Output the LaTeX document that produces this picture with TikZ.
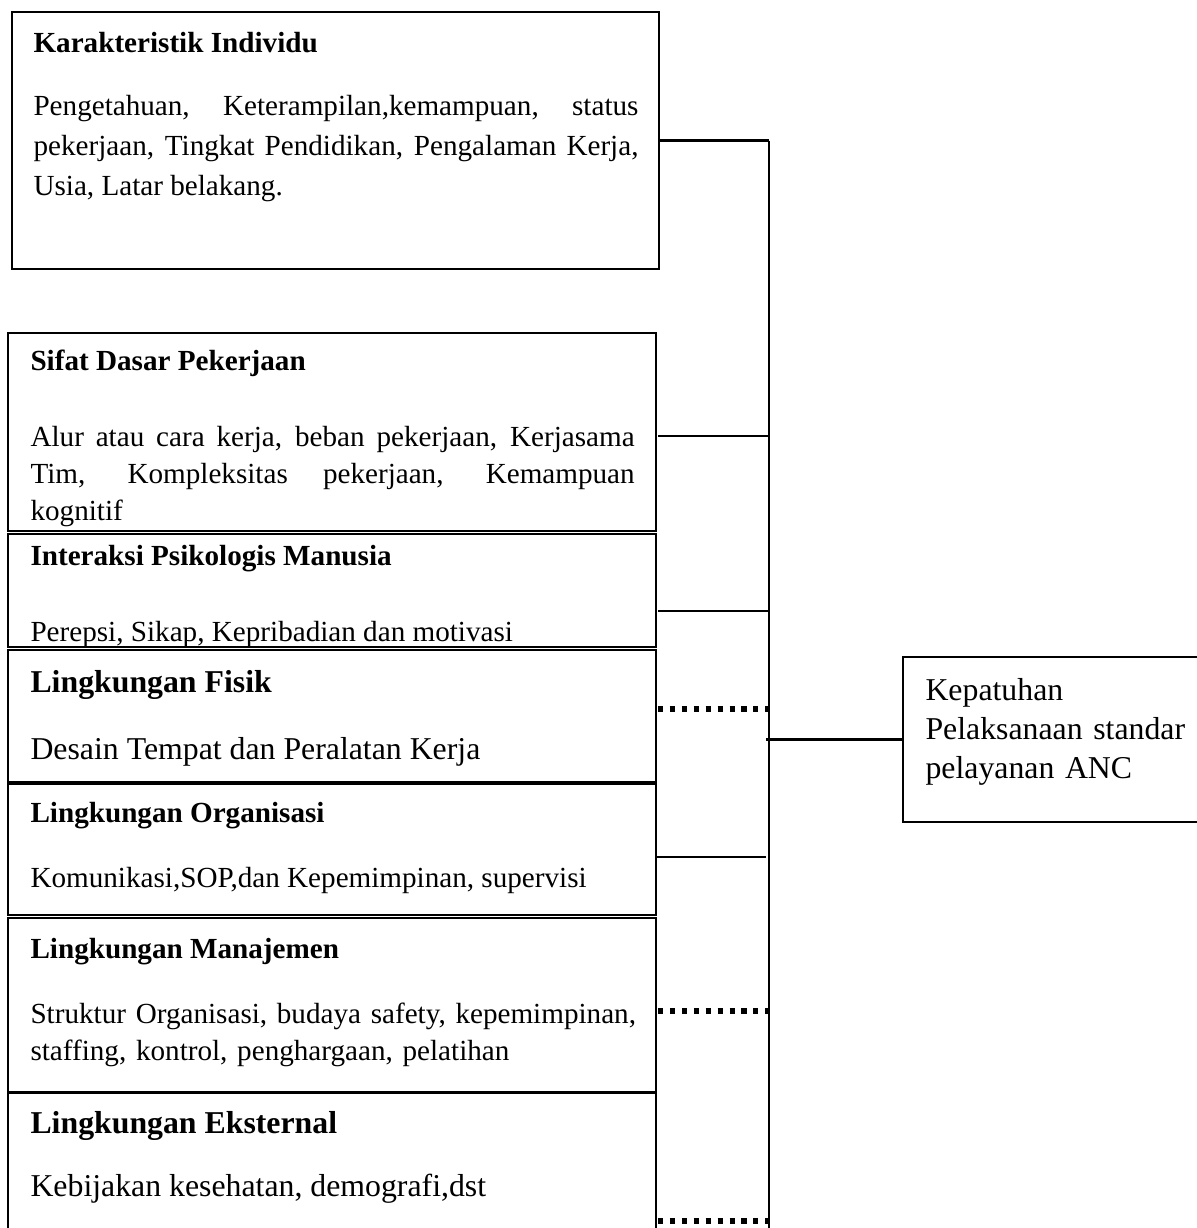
\documentclass[tikz,border=0pt]{standalone}
\usepackage{fontspec}
\setmainfont{Liberation Serif}
\usetikzlibrary{positioning,calc}
\newcommand{\pxu}{0.3774pt}

\begin{document}
\begin{tikzpicture}[
  x=\pxu, y=-\pxu,
  box/.style={draw,line width=0.8pt,outer sep=0pt,inner sep=0pt,anchor=north west},
  head/.style={anchor=base west,inner sep=0pt,font=\fontsize{11}{14}\selectfont\bfseries},
  bighead/.style={anchor=base west,inner sep=0pt,font=\fontsize{12}{15}\selectfont\bfseries},
  body/.style={anchor=base west,inner sep=0pt,align=left,font=\fontsize{11}{14.3}\selectfont},
  bigbody/.style={anchor=base west,inner sep=0pt,align=left,font=\fontsize{12}{14.9}\selectfont},
  link/.style={line width=0.8pt},
  dotlink/.style={line width=1.9pt,dash pattern=on 1.9pt off 2.6pt},
  busline/.style={line width=0.95pt}
]
\useasboundingbox (0,0) rectangle (1197,1228);
% factor boxes
\node[box,minimum width=647*\pxu,minimum height=257*\pxu] (ki) at (12,12) {};
\node[box,minimum width=648*\pxu,minimum height=198*\pxu] (sd) at (8,333) {};
\node[box,minimum width=648*\pxu,minimum height=113*\pxu] (ip) at (8,534) {};
\node[box,minimum width=648*\pxu,minimum height=132*\pxu] (lf) at (8,650) {};
\node[box,minimum width=648*\pxu,minimum height=131*\pxu] (lo) at (8,784) {};
\node[box,minimum width=648*\pxu,minimum height=174*\pxu] (lm) at (8,918) {};
\node[box,minimum width=648*\pxu,minimum height=150*\pxu] (le) at (8,1093) {};
\node[box,minimum width=310*\pxu,minimum height=165*\pxu] (out) at (903,657) {};

% texts
\node[head] (kiT) at ($(ki.north west)+(21,40)$) {Karakteristik Individu};
\node[body,align=justify,text width=228.3pt,font=\fontsize{11}{15.1}\selectfont] (kiB) at ($(ki.north west)+(21,103)$)
  {\hyphenpenalty=10000 Pengetahuan, Keterampilan,kemampuan, status\linebreak pekerjaan, Tingkat Pendidikan, Pengalaman Kerja,\linebreak Usia, Latar belakang.};
\node[head] (sdT) at ($(sd.north west)+(22,37)$) {Sifat Dasar Pekerjaan};
\node[body,align=justify,text width=228pt,font=\fontsize{11}{14}\selectfont] (sdB) at ($(sd.north west)+(22,113)$)
  {\hyphenpenalty=10000 Alur atau cara kerja, beban pekerjaan, Kerjasama\linebreak Tim, Kompleksitas pekerjaan, Kemampuan\linebreak kognitif};
\node[head] (ipT) at ($(ip.north west)+(22,31)$) {Interaksi Psikologis Manusia};
\node[body] (ipB) at ($(ip.north west)+(22,107)$) {Perepsi, Sikap, Kepribadian dan motivasi};
\node[bighead] (lfT) at ($(lf.north west)+(22,42)$) {Lingkungan Fisik};
\node[bigbody] (lfB) at ($(lf.north west)+(22,109)$) {Desain Tempat dan Peralatan Kerja};
\node[head] (loT) at ($(lo.north west)+(22,38)$) {Lingkungan Organisasi};
\node[body] (loB) at ($(lo.north west)+(22,103)$) {Komunikasi,SOP,dan Kepemimpinan, supervisi};
\node[head] (lmT) at ($(lm.north west)+(22,40)$) {Lingkungan Manajemen};
\node[body,text width=240pt,font=\fontsize{11}{14}\selectfont] (lmB) at ($(lm.north west)+(22,105)$) {Struktur Organisasi, budaya safety, kepemimpinan,\\staffing, kontrol, penghargaan, pelatihan};
\node[bighead] (leT) at ($(le.north west)+(22,40)$) {Lingkungan Eksternal};
\node[bigbody] (leB) at ($(le.north west)+(22,103)$) {Kebijakan kesehatan, demografi,dst};
\node[bigbody,text width=110pt] (outT) at ($(out.north west)+(22,43)$) {Kepatuhan\\Pelaksanaan standar\\pelayanan ANC};

% bus and taps
\coordinate (bus) at (769,0);
\coordinate (t2) at (769,436);
\coordinate (t3) at (769,611);
\coordinate (t4) at (769,709);
\coordinate (t5) at (766,857);
\coordinate (t6) at (769,1011);
\coordinate (t7) at (769,1221);
\draw[busline] (ki.east -| bus) -- (bus |- le.south);
\draw[link] (ki.east) -- (ki.east -| bus);
\draw[link] ([xshift=2*\pxu]t2 -| sd.east) -- (t2);
\draw[link] ([xshift=2*\pxu]t3 -| ip.east) -- (t3);
\draw[dotlink] ([xshift=2*\pxu]t4 -| lf.east) -- (t4);
\draw[link] (t5 -| lo.east) -- (t5);
\draw[dotlink] ([xshift=2*\pxu]t6 -| lm.east) -- (t6);
\draw[dotlink] ([xshift=2*\pxu]t7 -| le.east) -- (t7);
\draw[link] ([xshift=-3*\pxu]bus |- out.west) -- (out.west);
\end{tikzpicture}
\end{document}
